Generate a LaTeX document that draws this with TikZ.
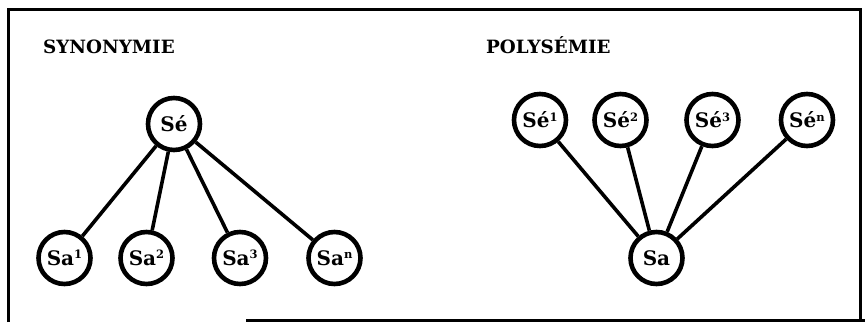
\documentclass[tikz,border=0pt]{standalone}
\usepackage{fontspec}
\setmainfont{DejaVu Serif}
\newcommand{\supx}[1]{\raisebox{6.8pt}{\fontsize{11.5}{11.5}\selectfont #1}}
\begin{document}
\begin{tikzpicture}[x=1pt,y=-1pt,
  circ/.style={circle,draw,line width=4.6pt,minimum size=52pt,inner sep=0pt,
    font=\bfseries\fontsize{20}{20}\selectfont},
  titletext/.style={font=\bfseries\fontsize{18.3}{19}\selectfont,anchor=base west,inner sep=0pt},
  link/.style={line width=3.6pt},
  framebox/.style={line width=3.2pt}]
\useasboundingbox (0,0) rectangle (865,322);
% frame
\draw[framebox] (8.5,322) -- (8.5,9.5) -- (860.5,9.5) -- (860.5,321.5);
\draw[framebox] (246,320.5) -- (865,320.5);
% titles
\node[titletext] (t1) at (43,53) {SYNONYMIE};
\node[titletext] (t2) at (486,53) {POLYSÉMIE};
% synonymie
\node[circ] (se) at (174,124) {Sé};
\node[circ] (sa1) at (64.5,258) {Sa\supx{1}};
\node[circ] (sa2) at (146.5,258) {Sa\supx{2}};
\node[circ] (sa3) at (240,258) {Sa\supx{3}};
\node[circ] (san) at (334.5,258) {Sa\supx{n}};
\foreach \n in {sa1,sa2,sa3,san} \draw[link] (se) -- (\n);
% polysemie
\node[circ] (sa) at (656.5,258) {Sa};
\node[circ] (se1) at (540,120) {Sé\supx{1}};
\node[circ] (se2) at (620.5,120) {Sé\supx{2}};
\node[circ] (se3) at (712.5,120) {Sé\supx{3}};
\node[circ] (sen) at (807,120) {Sé\supx{n}};
\foreach \n in {se1,se2,se3,sen} \draw[link] (sa) -- (\n);
\end{tikzpicture}
\end{document}
